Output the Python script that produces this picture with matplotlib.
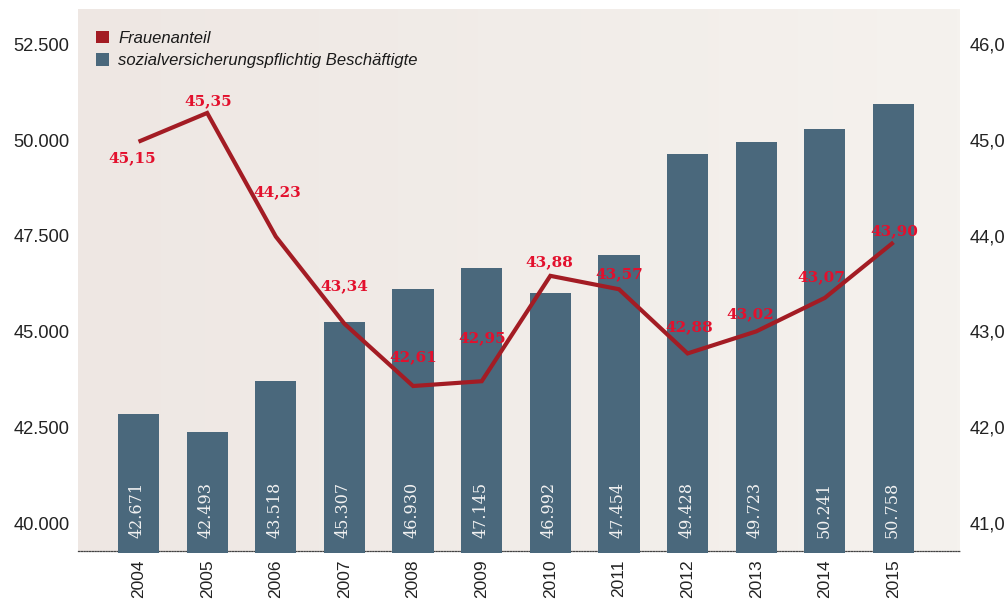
import matplotlib
matplotlib.use("Agg")
import matplotlib.pyplot as plt
import numpy as np
from matplotlib.patches import Patch

# ---- data ----
years = ["2004", "2005", "2006", "2007", "2008", "2009", "2010", "2011", "2012", "2013", "2014", "2015"]
# bar heights as drawn in the picture (left axis)
employees = [42846, 42376, 43708, 45248, 46110, 46658, 46005, 46997, 49634, 49948, 50287, 50940]
employee_labels = ["42.671", "42.493", "43.518", "45.307", "46.930", "47.145",
                   "46.992", "47.454", "49.428", "49.723", "50.241", "50.758"]
# line points as drawn in the picture (right axis)
women_share = [44.98, 45.28, 43.99, 43.08, 42.43, 42.48, 43.58, 43.44, 42.77, 43.00, 43.35, 43.93]
women_labels = ["45,15", "45,35", "44,23", "43,34", "42,61", "42,95",
                "43,88", "43,57", "42,88", "43,02", "43,07", "43,90"]
left_ticks = [40000, 42500, 45000, 47500, 50000, 52500]
left_tick_labels = ["40.000", "42.500", "45.000", "47.500", "50.000", "52.500"]
right_ticks = [41, 42, 43, 44, 45, 46]
right_tick_labels = ["41,0", "42,0", "43,0", "44,0", "45,0", "46,0"]
legend_labels = ["Frauenanteil", "sozialversicherungspflichtig Beschäftigte"]

# ---- style ----
BAR_COLOR = "#4A687C"
LINE_COLOR = "#A31C24"
LABEL_RED = "#E3102D"
TEXT = "#222222"
SANS = ["Liberation Sans", "DejaVu Sans"]
# label offsets in pixels relative to line point (dx, dy; dy positive = up)
label_offsets = [(-6, -16), (1, 12), (1, 44), (0, 38), (0, 29), (0, 43),
                 (-1, 14), (0, 15), (2, 26), (-6, 17), (-4, 21), (1, 11)]

fig = plt.figure(figsize=(10.07, 6.02), dpi=100)
fig.patch.set_facecolor("white")
W, H = 1007, 602
left, right, top, bottom = 78, 960, 9, 551
pos = [left / W, (H - bottom) / H, (right - left) / W, (bottom - top) / H]

# background gradient
bg = fig.add_axes(pos, zorder=0)
bg.axis("off")
c1 = np.array([238, 231, 227]) / 255
c2 = np.array([245, 242, 238]) / 255
t = np.linspace(0, 1, 256)
grad = (c1[None, :] * (1 - t[:, None]) + c2[None, :] * t[:, None])[None, :, :]
bg.imshow(grad, aspect="auto", extent=[0, 1, 0, 1])
bg.set_xlim(0, 1)
bg.set_ylim(0, 1)

ax = fig.add_axes(pos, zorder=1)
ax.patch.set_visible(False)
x = np.arange(len(years))
ylo, yhi = 39269, 53421
bar_base = ylo - 45
ax.bar(x, [v - bar_base for v in employees], bottom=bar_base, width=0.6, color=BAR_COLOR,
       zorder=3, clip_on=False)
ax.set_xlim(-0.882, 11.969)
ax.set_ylim(ylo, yhi)
ax.set_yticks(left_ticks)
ax.set_yticklabels(left_tick_labels, fontfamily=SANS, fontsize=13.2, color=TEXT)
ax.set_xticks(x)
ax.set_xticklabels(years, rotation=90, fontfamily=SANS, fontsize=12.5, color=TEXT)
ax.tick_params(axis="both", length=0)
ax.tick_params(axis="y", pad=6)
ax.tick_params(axis="x", pad=6)
for s in ["top", "left", "right"]:
    ax.spines[s].set_visible(False)
ax.spines["bottom"].set_linestyle((0, (1, 1.2)))
ax.spines["bottom"].set_linewidth(0.9)
ax.spines["bottom"].set_color("#444444")
ax.spines["bottom"].set_zorder(2)

for xi, lab in zip(x, employee_labels):
    ax.annotate(lab, (xi, ylo), xytext=(-1, 13), textcoords="offset pixels",
                rotation=90, ha="center", va="bottom", fontfamily="DejaVu Serif",
                fontsize=11.5, color="#F2F2F2", zorder=4)

ax2 = ax.twinx()
ax2.set_zorder(2)
ax2.patch.set_visible(False)
ax2.plot(x, women_share, color=LINE_COLOR, lw=3.0, solid_joinstyle="miter", solid_capstyle="butt")
ax2.set_ylim(40.708, 46.365)
ax2.set_yticks(right_ticks)
ax2.set_yticklabels(right_tick_labels, fontfamily=SANS, fontsize=13.2, color=TEXT)
ax2.tick_params(axis="y", length=0, pad=7)
for s in ["top", "left", "right", "bottom"]:
    ax2.spines[s].set_visible(False)

for xi, v, lab, (dx, dy) in zip(x, women_share, women_labels, label_offsets):
    ax2.annotate(lab, (xi, v), xytext=(dx, dy), textcoords="offset pixels",
                 ha="center", va="center", fontfamily="DejaVu Serif", fontweight="bold",
                 fontsize=11, color=LABEL_RED)

handles = [Patch(facecolor=LINE_COLOR, edgecolor="none"), Patch(facecolor=BAR_COLOR, edgecolor="none")]
leg = ax2.legend(handles, legend_labels, loc="upper left", bbox_to_anchor=(0.0073, 0.981),
                 frameon=False, handlelength=0.78, handleheight=0.78, handletextpad=0.55,
                 labelspacing=0.42, borderaxespad=0.3,
                 prop={"family": SANS, "style": "italic", "size": 12})
for txt in leg.get_texts():
    txt.set_color("#1A1A1A")

fig.savefig("out.png", dpi=100, facecolor="white")
